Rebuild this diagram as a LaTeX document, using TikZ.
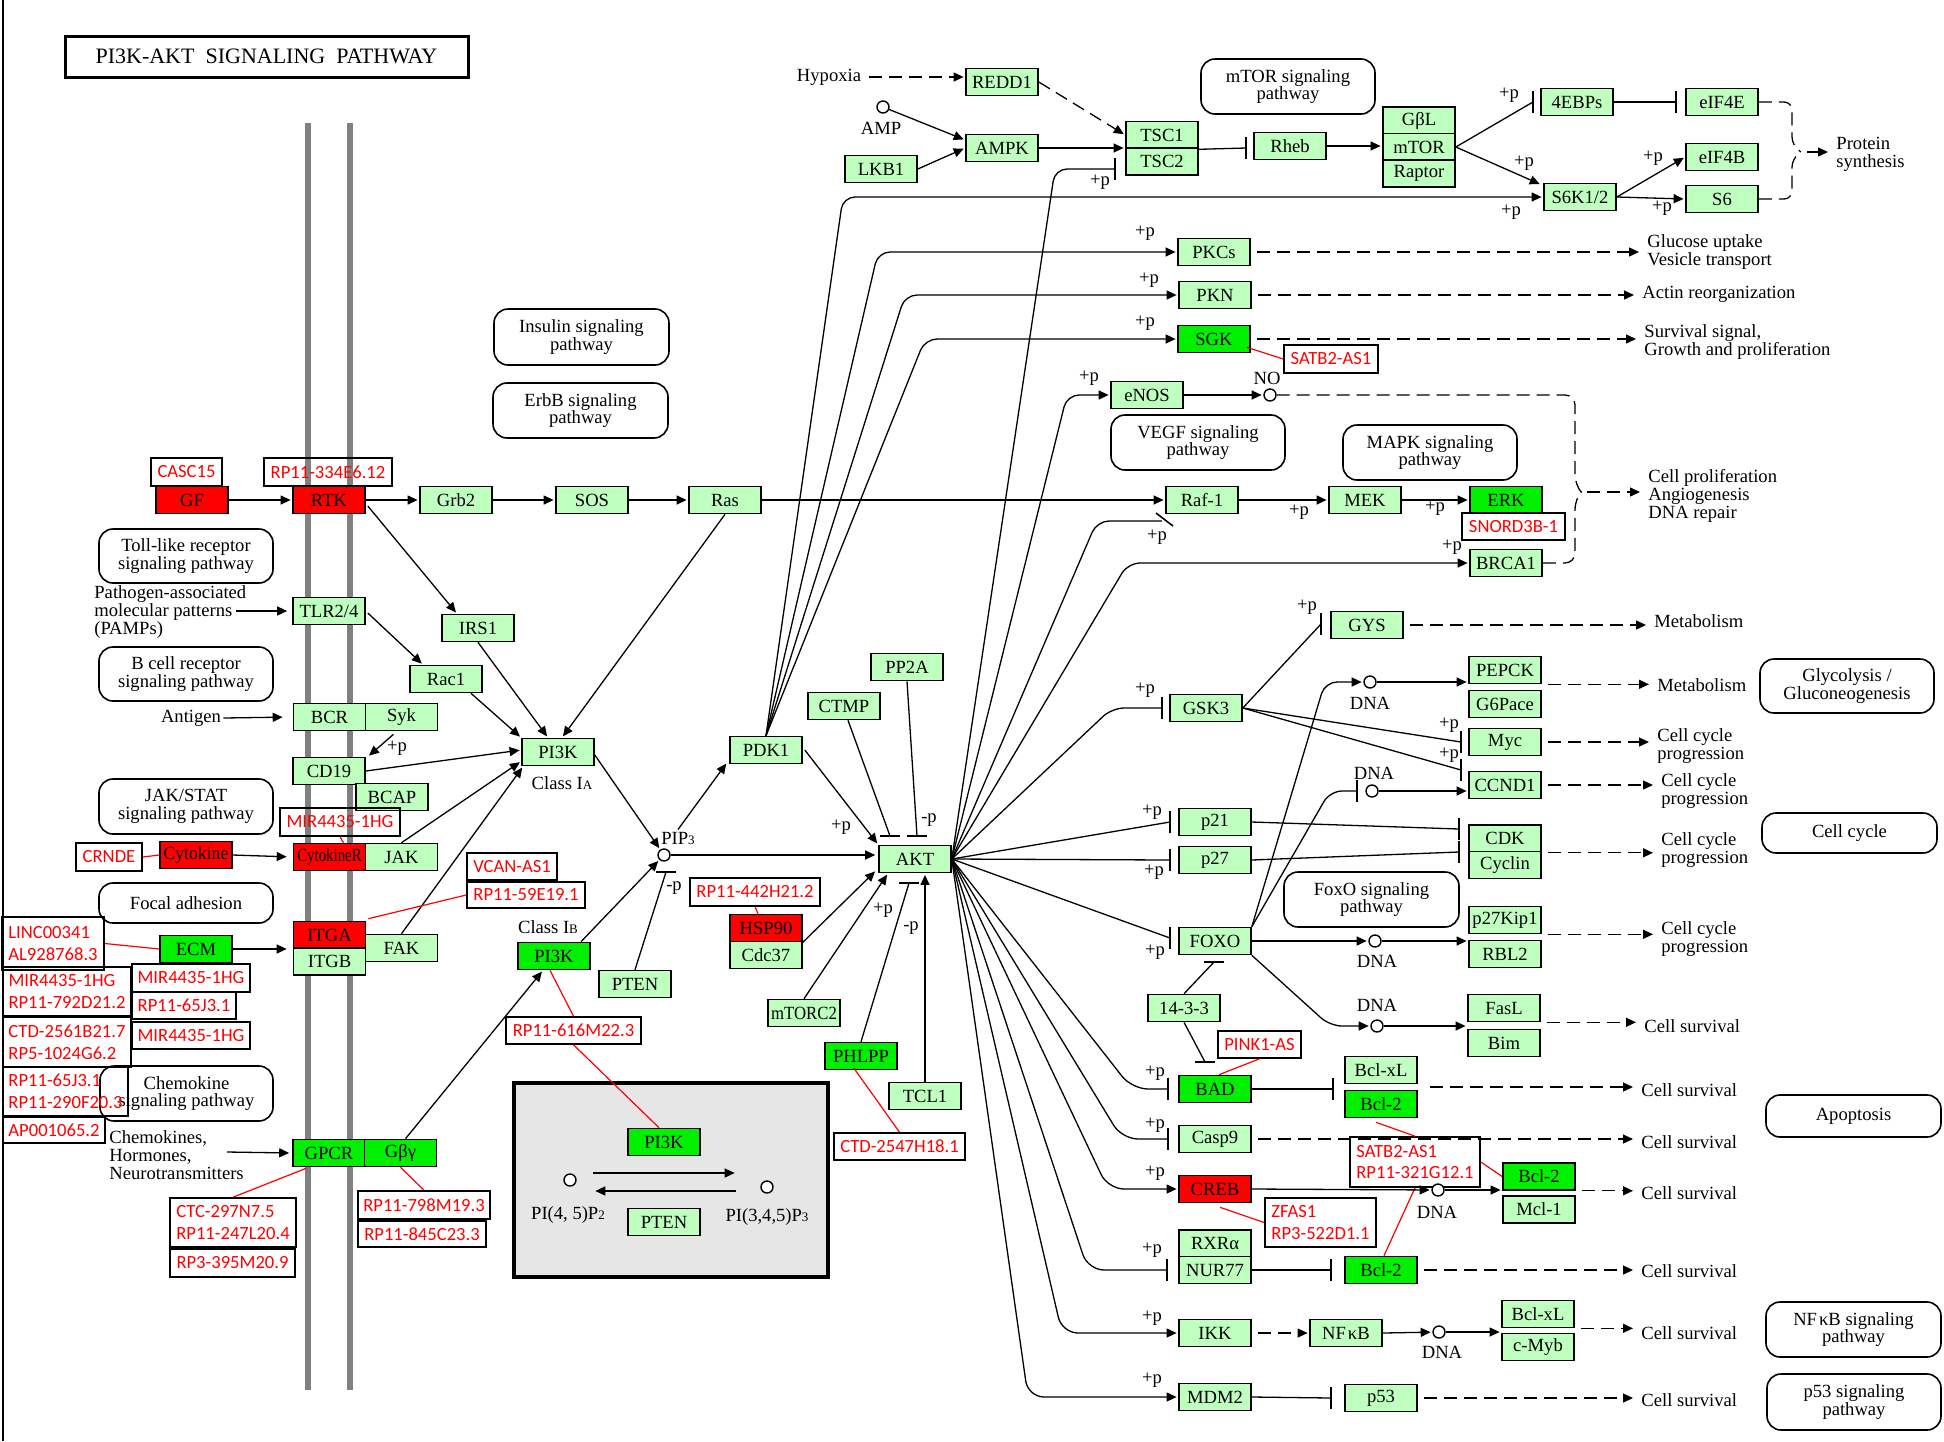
\documentclass[tikz,border=0pt]{standalone}
\usepackage{fontspec}
\usepackage{graphicx}
\setmainfont{Liberation Serif}
\newfontfamily\lblfont{Carlito}
\usetikzlibrary{arrows.meta,calc}
\definecolor{kgreen}{RGB}{191,255,191}
\definecolor{kbright}{RGB}{0,240,0}
\definecolor{kred}{RGB}{255,0,0}
\definecolor{kgrey}{RGB}{128,128,128}
\definecolor{kbox}{RGB}{230,230,230}
\tikzset{
 genebox/.style={draw, line width=0.8pt, fill=kgreen, minimum width=36pt, minimum height=13.5pt, inner sep=0pt, font=\fontsize{9.3}{9.3}\selectfont},
 redbox/.style={genebox, fill=kred},
 brightbox/.style={genebox, fill=kbright},
 lblbox/.style={draw, line width=0.8pt, text=kred, font=\lblfont\fontsize{9.3}{10.8}\selectfont, inner xsep=2.5pt, inner ysep=0pt, align=left},
 mapbox/.style={draw, line width=0.8pt, rounded corners=7pt, inner sep=0pt, align=center, font=\fontsize{9.3}{8.9}\selectfont},
 txt/.style={inner sep=1pt, font=\fontsize{9.3}{8.9}\selectfont, align=left},
 ptxt/.style={inner sep=0pt, font=\fontsize{9.3}{9.3}\selectfont},
 conn/.style={line width=0.65pt},
 arr/.style={conn, -{Triangle[length=5pt,width=4.5pt]}, shorten >=0.8pt},
 darr/.style={arr, dash pattern=on 6.5pt off 3.5pt, shorten <=3pt, shorten >=3pt},
 dline/.style={conn, dash pattern=on 6.5pt off 3.5pt},
 barline/.style={line width=0.8pt},
 redline/.style={draw=kred, line width=0.6pt},
 membrane/.style={draw=kgrey, line width=3.3pt},
 mol/.style={circle, draw, line width=0.7pt, fill=white, minimum size=6pt, inner sep=0pt},
}
\newcommand\mkgene[5][genebox]{\node[#1] (#2) at (#3,#4) {#5};}
\newcommand\mklab[6]{\pgfmathsetmacro\lbw{(#4-#2)*0.5}\pgfmathsetmacro\lbh{(#5-#3)*0.5}\node[lblbox, minimum width=\lbw pt, minimum height=\lbh pt] (#1) at ({(#2+#4)/2},{(#3+#5)/2}) {#6};}
\newcommand\mkmap[6]{\pgfmathsetmacro\lbw{(#4-#2)*0.5}\pgfmathsetmacro\lbh{(#5-#3)*0.5}\node[mapbox, minimum width=\lbw pt, minimum height=\lbh pt] (#1) at ({(#2+#4)/2},{(#3+#5)/2}) {#6};}
\newcommand\vbarat[1]{\draw[barline] ($(#1)+(0,-11)$) -- ($(#1)+(0,11)$);}
\newcommand\hbarat[1]{\draw[barline] ($(#1)+(-10,0)$) -- ($(#1)+(10,0)$);}
\begin{document}
\begin{tikzpicture}[x=0.5pt,y=-0.5pt]
\useasboundingbox (0,0) rectangle (1944,1441);
\fill[white] (0,0) rectangle (1944,1441);
\draw[line width=1pt] (3,0) -- (3,1441);
\draw[membrane] (308,123) -- (308,1390);
\draw[membrane] (350,123) -- (350,1390);
\node[draw, line width=1.5pt, minimum width=201.5pt, minimum height=20.5pt, inner sep=0pt, font=\fontsize{11}{11}\selectfont] (title) at (266.5,56.5) {PI3K-AKT\ \ SIGNALING\ \ PATHWAY};
\node[draw, line width=1.8pt, fill=kbox, minimum width=157pt, minimum height=97pt, inner sep=0pt] (greybox) at (671,1180) {};

% pathway maps
\mkmap{insulin}{494}{309}{669}{365}{Insulin signaling\\pathway}
\mkmap{erbb}{493}{383}{668}{438}{ErbB signaling\\pathway}
\mkmap{mtorpw}{1201}{59}{1375}{114}{mTOR signaling\\pathway}
\mkmap{toll}{99}{529}{273}{583}{Toll-like receptor\\signaling pathway}
\mkmap{bcell}{99}{647}{273}{701}{B cell receptor\\signaling pathway}
\mkmap{jakpw}{99}{779}{273}{834}{JAK/STAT\\signaling pathway}
\mkmap{focal}{99}{883}{273}{923}{Focal adhesion}
\mkmap{chemo}{100}{1066}{273}{1121}{Chemokine\\signaling pathway}
\mkmap{vegf}{1111}{415}{1285}{470}{VEGF signaling\\pathway}
\mkmap{mapk}{1343}{425}{1517}{480}{MAPK signaling\\pathway}
\mkmap{foxopw}{1284}{872}{1459}{927}{FoxO signaling\\pathway}
\mkmap{glyco}{1760}{659}{1934}{713}{Glycolysis /\\Gluconeogenesis}
\mkmap{ccyc}{1762}{813}{1937}{853}{Cell cycle}
\mkmap{apop}{1766}{1095}{1941}{1137}{Apoptosis}
\mkmap{nfkbpw}{1766}{1302}{1941}{1357}{NF\kern1ptκB signaling\\pathway}
\mkmap{p53pw}{1767}{1374}{1941}{1430}{p53 signaling\\pathway}

% genes left
\mkgene[redbox]{GF}{192}{500}{GF}
\mkgene[redbox]{RTK}{329}{500}{RTK}
\mkgene{Grb2}{456}{500}{Grb2}
\mkgene{SOS}{592}{500}{SOS}
\mkgene{Ras}{725}{500}{Ras}
\mkgene{TLR}{329}{611}{TLR2/4}
\mkgene{IRS1}{478}{628}{IRS1}
\mkgene{Rac1}{446}{679}{Rac1}
\mkgene{BCR}{329.5}{717}{BCR}
\mkgene{Syk}{401.5}{717}{Syk}
\mkgene{CD19}{329}{771}{CD19}
\mkgene{BCAP}{392}{797}{BCAP}
\mkgene[redbox]{Cytok}{196}{855}{\scalebox{0.95}[1]{Cytokine}}
\mkgene[redbox]{CytR}{329.5}{857}{\scalebox{0.8}[1]{CytokineR}}
\mkgene{JAK}{401.5}{857}{JAK}
\mkgene[redbox]{ITGA}{329.5}{935}{ITGA}
\mkgene{ITGB}{329.5}{961.5}{ITGB}
\mkgene{FAK}{401.5}{948}{FAK}
\mkgene[brightbox]{ECM}{196}{949}{ECM}
\mkgene[brightbox]{GPCR}{329}{1153}{GPCR}
\mkgene[brightbox]{Gbg}{400.5}{1153}{Gβγ}
\mkgene{PI3KA}{558}{752}{PI3K}
\mkgene[brightbox]{PI3KB}{554}{956}{PI3K}
\mkgene{PTENa}{635}{984}{PTEN}
\mkgene{PDK1}{766}{750}{PDK1}
\mkgene{CTMP}{844}{706}{CTMP}
\mkgene{PP2A}{907}{667}{PP2A}
\mkgene{AKT}{915}{859}{AKT}
\mkgene[redbox]{HSP90}{766}{928}{HSP90}
\mkgene{Cdc37}{766}{955}{Cdc37}
\mkgene{mTORC2}{804}{1013}{\scalebox{0.9}[1]{mTORC2}}
\mkgene[brightbox]{PHLPP}{861}{1056}{PHLPP}
\mkgene{TCL1}{925}{1096}{TCL1}
\mkgene[brightbox]{PI3Kc}{664}{1142}{PI3K}
\mkgene{PTENc}{664}{1222}{PTEN}
% genes top
\mkgene{REDD1}{1002}{82}{REDD1}
\mkgene{AMPK}{1002}{148}{AMPK}
\mkgene{LKB1}{881}{169}{LKB1}
\mkgene{TSC1}{1162}{135}{TSC1}
\mkgene{TSC2}{1162}{161.5}{TSC2}
\mkgene{Rheb}{1290}{146}{Rheb}
\mkgene{GbL}{1419}{120.5}{GβL}
\mkgene{mTOR}{1419}{147}{mTOR}
\mkgene{Raptor}{1419}{173.5}{Raptor}
\mkgene{EBP}{1577}{102}{4EBPs}
\mkgene{eIF4E}{1722}{102}{eIF4E}
\mkgene{eIF4B}{1722}{157}{eIF4B}
\mkgene{S6}{1722}{199}{S6}
\mkgene{S6K}{1580}{197}{S6K1/2}
\mkgene{PKCs}{1214}{252}{PKCs}
\mkgene{PKN}{1215}{295}{PKN}
\mkgene[brightbox]{SGK}{1214}{339}{SGK}
\mkgene{eNOS}{1147}{395}{eNOS}
\mkgene{Raf1}{1202}{500}{Raf-1}
\mkgene{MEK}{1365}{500}{MEK}
\mkgene[brightbox]{ERK}{1506}{500}{ERK}
\mkgene{BRCA1}{1506}{563}{BRCA1}
\mkgene{GYS}{1367}{625}{GYS}
\mkgene{GSK3}{1206}{708}{GSK3}
\mkgene{PEPCK}{1505}{670}{PEPCK}
\mkgene{G6Pace}{1505}{704}{G6Pace}
\mkgene{Myc}{1505}{742}{Myc}
\mkgene{CCND1}{1505}{785}{CCND1}
\mkgene{CDK}{1505}{838.5}{CDK}
\mkgene{Cyclin}{1505}{865}{Cyclin}
\mkgene{p21}{1215}{822}{p21}
\mkgene{p27}{1215}{860}{p27}
\mkgene{FOXO}{1215}{941}{FOXO}
\mkgene{p27Kip1}{1505}{920}{p27Kip1}
\mkgene{RBL2}{1505}{954}{RBL2}
\mkgene{b1433}{1184}{1008}{14-3-3}
\mkgene{FasL}{1504}{1008}{FasL}
\mkgene{Bim}{1504}{1043}{Bim}
\mkgene[brightbox]{BAD}{1215}{1089}{BAD}
\mkgene{Bclxl}{1381}{1070}{Bcl-xL}
\mkgene[brightbox]{Bcl2a}{1381}{1104}{Bcl-2}
\mkgene{Casp9}{1215}{1139}{Casp9}
\mkgene[redbox]{CREB}{1215}{1189}{CREB}
\mkgene[brightbox]{Bcl2b}{1539}{1176.5}{Bcl-2}
\mkgene{Mcl1}{1539}{1209.5}{Mcl-1}
\mkgene{RXRa}{1215}{1243.5}{RXRα}
\mkgene{NUR77}{1215}{1270}{NUR77}
\mkgene[brightbox]{Bcl2c}{1381}{1270}{Bcl-2}
\mkgene{IKK}{1215}{1333}{IKK}
\mkgene{NFkB}{1346}{1333}{NF\kern1ptκB}
\mkgene{Bclxl2}{1538}{1314}{Bcl-xL}
\mkgene{cMyb}{1538}{1347}{c-Myb}
\mkgene{MDM2}{1215}{1397}{MDM2}
\mkgene{p53}{1381}{1398}{p53}

% red labels
\mklab{casc}{151}{458}{222}{486}{CASC15}
\mklab{rp334}{264}{458}{392}{486}{RP11-334E6.12}
\mklab{mirA}{280}{808}{400}{836}{MIR4435-1HG}
\mklab{crnde}{76}{843}{142}{871}{CRNDE}
\mklab{vcan}{467}{853}{557}{880}{VCAN-AS1}
\mklab{rp59}{467}{882}{585}{908}{RP11-59E19.1}
\mklab{linc}{2}{917}{104}{970}{LINC00341\\AL928768.3}
\mklab{mirB}{3}{967}{131}{1016}{MIR4435-1HG\\RP11-792D21.2}
\mklab{ctd25}{3}{1017}{131}{1067}{CTD-2561B21.7\\RP5-1024G6.2}
\mklab{rp65a}{3}{1067}{128}{1116}{RP11-65J3.1\\RP11-290F20.3}
\mklab{ap00}{3}{1117}{105}{1143}{AP001065.2}
\mklab{mirC}{132}{964}{250}{992}{MIR4435-1HG}
\mklab{rp65b}{132}{992}{236}{1019}{RP11-65J3.1}
\mklab{mirD}{132}{1022}{250}{1049}{MIR4435-1HG}
\mklab{ctc}{170}{1198}{296}{1247}{CTC-297N7.5\\RP11-247L20.4}
\mklab{rp3}{170}{1249}{295}{1277}{RP3-395M20.9}
\mklab{rp798}{358}{1191}{490}{1219}{RP11-798M19.3}
\mklab{rp845}{358}{1221}{486}{1247}{RP11-845C23.3}
\mklab{rp616}{506}{1017}{641}{1044}{RP11-616M22.3}
\mklab{rp442}{690}{878}{820}{906}{RP11-442H21.2}
\mklab{ctd}{834}{1133}{965}{1160}{CTD-2547H18.1}
\mklab{satbA}{1284}{345}{1378}{373}{SATB2-AS1}
\mklab{snord}{1462}{513}{1565}{540}{SNORD3B-1}
\mklab{pink}{1218}{1031}{1301}{1058}{PINK1-AS}
\mklab{satbB}{1350}{1137}{1480}{1187}{SATB2-AS1\\RP11-321G12.1}
\mklab{zfas}{1265}{1198}{1376}{1247}{ZFAS1\\RP3-522D1.1}

% plain texts and small molecules
\node[txt] (hyp) at (829,77) {Hypoxia};
\node[mol] (amp) at (883,107) {};
\node[txt] (amplab) at (881,128) {AMP};
\node[mol] (no) at (1270,395) {};
\node[txt] (nolab) at (1267,378) {NO};
\node[txt, anchor=west] (pamps) at (92,612) {Pathogen-associated\\molecular patterns\\(PAMPs)};
\coordinate (pampsend) at (236,611);
\node[txt] (antigen) at (191,718) {Antigen};
\node[txt, anchor=west] (chemtxt) at (107,1155) {Chemokines,\\Hormones,\\Neurotransmitters};
\coordinate (chemend) at (227,1152);
\node[txt] (classA) at (562,783) {Class I{\fontsize{6.5}{6.5}\selectfont A}};
\node[txt] (classB) at (548,927) {Class I{\fontsize{6.5}{6.5}\selectfont B}};
\node[mol] (pip3) at (664,855) {};
\node[txt] (pip3lab) at (678,838) {PIP{\fontsize{6.5}{6.5}\selectfont 3}};
\node[mol] (pi45) at (570,1180) {};
\node[mol] (pi345) at (767,1187) {};
\node[txt] (pi45lab) at (568,1215) {PI(4, 5)P{\fontsize{6.5}{6.5}\selectfont 2}};
\node[txt] (pi345lab) at (767,1217) {PI(3,4,5)P{\fontsize{6.5}{6.5}\selectfont 3}};
\node[mol] (dna1) at (1370,682) {};
\node[txt] (dna1lab) at (1370,703) {DNA};
\node[mol] (dna2) at (1372,791) {};
\node[txt] (dna2lab) at (1374,773) {DNA};
\node[mol] (dna3) at (1375,941) {};
\node[txt] (dna3lab) at (1377,961) {DNA};
\node[mol] (dna4) at (1377,1026) {};
\node[txt] (dna4lab) at (1377,1005) {DNA};
\node[mol] (dna5) at (1438,1190) {};
\node[txt] (dna5lab) at (1437,1212) {DNA};
\node[mol] (dna6) at (1439,1332) {};
\node[txt] (dna6lab) at (1442,1352) {DNA};

% outputs
\node[txt, anchor=west] (protein) at (1834,154) {Protein\\synthesis};
\node[txt, anchor=west] (glucose) at (1645,252) {Glucose uptake\\Vesicle transport};
\node[txt, anchor=west] (actin) at (1640,294) {Actin reorganization};
\node[txt, anchor=west] (survsig) at (1642,342) {Survival signal,\\Growth and proliferation};
\node[txt, anchor=west] (cellprol) at (1646,496) {Cell proliferation\\Angiogenesis\\DNA repair};
\node[txt, anchor=west] (met1) at (1652,621) {Metabolism};
\node[txt, anchor=west] (met2) at (1655,685) {Metabolism};
\node[txt, anchor=west] (ccp1) at (1655,746) {Cell cycle\\progression};
\node[txt, anchor=west] (ccp2) at (1659,791) {Cell cycle\\progression};
\node[txt, anchor=west] (ccp3) at (1659,850) {Cell cycle\\progression};
\node[txt, anchor=west] (ccp4) at (1659,939) {Cell cycle\\progression};
\node[txt, anchor=west] (cs1) at (1642,1026) {Cell survival};
\node[txt, anchor=west] (cs2) at (1639,1090) {Cell survival};
\node[txt, anchor=west] (cs3) at (1639,1142) {Cell survival};
\node[txt, anchor=west] (cs4) at (1639,1193) {Cell survival};
\node[txt, anchor=west] (cs5) at (1639,1271) {Cell survival};
\node[txt, anchor=west] (cs6) at (1639,1333) {Cell survival};
\node[txt, anchor=west] (cs7) at (1639,1400) {Cell survival};

% +p / -p labels
\foreach \ppx/\ppy/\ppt [count=\i] in {397/748/+p, 841/827/+p, 929/820/-p, 674/888/-p, 883/910/+p, 911/928/-p, 1100/182/+p, 1145/233/+p, 1149/280/+p, 1145/323/+p, 1089/378/+p, 1157/537/+p, 1299/512/+p, 1435/508/+p, 1452/547/+p, 1509/95/+p, 1524/163/+p, 1511/212/+p, 1653/158/+p, 1662/208/+p, 1307/607/+p, 1145/690/+p, 1449/725/+p, 1449/755/+p, 1152/812/+p, 1154/872/+p, 1155/952/+p, 1155/1073/+p, 1155/1125/+p, 1155/1173/+p, 1152/1250/+p, 1152/1318/+p, 1152/1380/+p}
  {\node[ptxt] (pl\i) at (\ppx,\ppy) {\ppt};}

% ---------- connectors: left ----------
\draw[arr] (GF.east) -- (RTK.west);
\draw[arr] (RTK.east) -- (Grb2.west);
\draw[arr] (Grb2.east) -- (SOS.west);
\draw[arr] (SOS.east) -- (Ras.west);
\draw[arr] (Ras.east) -- (Raf1.west);
\draw[arr] ($(RTK.east)+(2,6)$) -- ($(IRS1.north)+(-21,0)$);
\draw[arr] ($(TLR.east)+(2,2)$) -- ($(Rac1.north)+(-23,0)$);
\draw[arr, shorten >=2.5pt] (pampsend) -- (TLR.west);
\draw[arr, shorten >=5pt] (antigen.east) -- (BCR.west);
\draw[arr] ($(Syk.south)+(-8,3)$) -- ($(CD19.north east)+(2,0)$);
\draw[arr] ($(Rac1.south)+(25,0)$) -- (PI3KA.north west);
\draw[arr] (IRS1.south) -- ($(PI3KA.north)+(-10,0)$);
\draw[arr] (Ras.south) -- ($(PI3KA.north)+(4,0)$);
\draw[arr] (CD19.east) -- ($(PI3KA.west)+(0,-2)$);
\draw[arr] (JAK.north) -- ($(PI3KA.south west)+(0,-5)$);
\draw[arr] (FAK.north) -- ($(PI3KA.south west)+(2,0)$);
\draw[arr, shorten >=3pt] (Cytok.east) -- (CytR.west);
\draw[arr, shorten >=3pt] (ECM.east) -- (ECM.east -| ITGA.west);
\draw[arr, shorten >=1.5pt] (chemend) -- (GPCR.west);
\draw[arr] ($(Gbg.north)+(5,0)$) -- ($(PI3KB.south)+(-11,0)$);

% PIP3 / AKT
\draw[arr] ($(PI3KA.east)+(0,3)$) -- (pip3);
\draw[arr] ($(PI3KB.north)+(27,0)$) -- (pip3);
\draw[arr] (pip3lab.north) -- ($(PDK1.south west)+(-2,-2)$);
\draw[arr, shorten >=1.5pt] (pip3) -- (pip3 -| AKT.west);
\coordinate (bpip) at (666,872); \draw[conn] (PTENa.north) -- (bpip); \hbarat{bpip}
\draw[arr] ($(PDK1.east)+(2,0)$) -- (AKT.north west);
\coordinate (bctmp) at (890,836); \draw[conn] ($(CTMP.south)+(4,0)$) -- (bctmp); \hbarat{bctmp}
\coordinate (bpp2a) at (917,836); \draw[conn] (PP2A.south) -- (bpp2a); \hbarat{bpp2a}
\draw[arr] (HSP90.south east) -- ($(AKT.south west)+(-2,-3)$);
\draw[arr] (mTORC2.north) -- ($(AKT.south)+(-27,0)$);
\coordinate (bphl) at (909,883); \draw[conn] (PHLPP.north) -- (bphl); \hbarat{bphl}
\draw[arr] (TCL1.north) -- (TCL1.north |- AKT.south);
\draw[arr] ($(pi45.east)+(16,-7)$) -- ($(pi345.west)+(-24,-14)$);
\draw[arr] ($(pi345.west)+(-24,4)$) -- ($(pi45.east)+(17,11)$);

% red association lines
\draw[redline] (mirA.south) -- ($(CytR.north)+(14,0)$);
\draw[redline] (crnde.east) -- (Cytok.west);
\draw[redline] (rp59.west) -- ($(ITGA.north east)+(2,-2)$);
\draw[redline] (linc.east) -- (ECM.west);
\draw[redline] ($(GPCR.south west)+(14,1)$) -- (ctc.north);
\draw[redline] (Gbg.south) -- (rp798.north);
\draw[redline] ($(PI3KB.south)+(-4,0)$) -- (rp616.north);
\draw[redline] (rp616.south) -- ($(PI3Kc.north)+(-5,0)$);
\draw[redline] (rp442.south) -- ($(HSP90.north)+(-8,0)$);
\draw[redline] ($(PHLPP.south)+(-7,-2)$) -- (ctd.north);
\draw[redline] ($(SGK.south east)+(-4,-6)$) -- (satbA.west);
\draw[redline] (pink.south) -- ($(BAD.north)+(4,0)$);
\draw[redline] ($(Bcl2a.south)+(-5,4)$) -- (satbB.north);
\draw[redline] (satbB.east) -- (Bcl2b.west);
\draw[redline] (satbB.south) -- ($(Bcl2c.north)+(3,0)$);
\draw[redline] ($(CREB.south)+(5,4)$) -- (zfas.west);

% ---------- top ----------
\draw[darr, shorten >=0.8pt] (hyp.east) -- (REDD1.west |- hyp.east);
\draw[arr] (amp) -- ($(AMPK.west)+(0,-8)$);
\draw[arr] (LKB1.east) -- (AMPK.west);
\draw[darr, shorten <=0pt, shorten >=0.8pt] (REDD1.east) -- (TSC1.west);
\draw[arr] (AMPK.east) -- (AMPK.east -| TSC1.west);
\coordinate (brheb) at (1246,148); \draw[conn] (TSC1.south east) -- (brheb); \vbarat{brheb}
\draw[arr] (Rheb.east) -- (Rheb.east -| mTOR.west);
\coordinate (b4e) at (1533,102); \draw[conn] (mTOR.east) -- (b4e); \vbarat{b4e}
\coordinate (beif) at (1676,102); \draw[conn] (EBP.east) -- (beif); \vbarat{beif}
\draw[arr] (mTOR.east) -- ($(S6K.north west)+(-2,2)$);
\draw[arr] (S6K.east) -- (eIF4B.west);
\draw[arr] (S6K.east) -- (S6.west);
\coordinate (ptip) at (1801,152);
\draw[dline, rounded corners=4pt] (eIF4E.east) -- (1792,102) -- (1792,145) -- (ptip);
\draw[dline, rounded corners=4pt] (S6.east) -- (1792,199) -- (1792,159) -- (ptip);
\draw[darr] (ptip) -- (ptip -| protein.west);

% PDK1 fan
\draw[arr, rounded corners=6pt] (PDK1.north) -- (843,197) -- (S6K.west);
\draw[arr, rounded corners=6pt] (PDK1.north) -- (878,252) -- (PKCs.west);
\draw[arr, rounded corners=6pt] (PDK1.north) -- (905,295) -- (PKN.west);
\draw[arr, rounded corners=6pt] (PDK1.north) -- (925,339) -- (SGK.west);
\draw[darr] (PKCs.east) -- (PKCs.east -| glucose.west);
\draw[darr] (PKN.east) -- (PKN.east -| actin.west);
\draw[darr] (SGK.east) -- (SGK.east -| survsig.west);

% AKT fan (upper)
\coordinate (btsc) at (1115,169);
\draw[conn, rounded corners=6pt] (AKT.east) -- (1055,169) -- (btsc); \vbarat{btsc}
\draw[arr, rounded corners=6pt] (AKT.east) -- (1067,395) -- (eNOS.west);
\draw[arr] (eNOS.east) -- (no);
\coordinate (ctip) at (1581,492);
\draw[dline, rounded corners=5pt] (no.east) -- (1575,395) -- (1575,485) -- (ctip);
\draw[dline, rounded corners=5pt] (BRCA1.east) -- (1575,563) -- (1575,499) -- (ctip);
\draw[darr] (ctip) -- (ctip -| cellprol.west);
\draw[arr] (Raf1.east) -- (MEK.west);
\draw[arr] (MEK.east) -- (ERK.west);
\coordinate (braf) at (1162,521);
\draw[conn, rounded corners=6pt] (AKT.east) -- (1097,521) -- (braf);
\draw[barline] ($(braf)+(-6,-8)$) -- ($(braf)+(11,5)$);
\draw[arr, rounded corners=6pt] (AKT.east) -- (1128,563) -- (BRCA1.west);
\coordinate (bgsk) at (1162,708);
\draw[conn, rounded corners=6pt] (AKT.east) -- (1112,708) -- (bgsk); \vbarat{bgsk}
\coordinate (bgys) at (1321,624); \draw[conn] (GSK3.east) -- (bgys); \vbarat{bgys}
\coordinate (bmyc) at (1461,742); \draw[conn] (GSK3.east) -- (bmyc); \vbarat{bmyc}
\coordinate (bccnd) at (1461,770); \draw[conn] (GSK3.east) -- (bccnd); \vbarat{bccnd}
\draw[darr] (GYS.east) -- (GYS.east -| met1.west);
\draw[darr] (PEPCK.south east) -- (PEPCK.south east -| met2.west);
\draw[darr] (Myc.east) -- (Myc.east -| ccp1.west);
\draw[darr] (CCND1.east) -- (CCND1.east -| ccp2.west);
\draw[darr] (CDK.south east) -- (CDK.south east -| ccp3.west);
\draw[darr] (p27Kip1.south east) -- (p27Kip1.south east -| ccp4.west);

% FOXO / DNA
\draw[arr, rounded corners=6pt] (FOXO.north east) -- (1325,682) -- (dna1);
\draw[arr] (dna1) -- (dna1 -| PEPCK.west);
\coordinate (bdna2) at (1357,791);
\draw[conn, rounded corners=6pt] (FOXO.north east) -- (1330,791) -- (bdna2); \vbarat{bdna2}
\draw[arr] (dna2) -- (dna2 -| CCND1.west);
\draw[arr] (FOXO.east) -- (dna3);
\draw[arr] (dna3) -- (dna3 -| p27Kip1.west);
\draw[arr, rounded corners=6pt] (FOXO.south east) -- (1330,1026) -- (dna4);
\draw[arr] (dna4) -- (dna4 -| FasL.west);
\draw[darr] (FasL.south east) -- (FasL.south east -| cs1.west);

% AKT fan (middle)
\coordinate (bp21) at (1170,822); \draw[conn] (AKT.east) -- (bp21); \vbarat{bp21}
\coordinate (bp27) at (1170,860); \draw[conn] (AKT.east) -- (bp27); \vbarat{bp27}
\coordinate (bfoxo) at (1170,938); \draw[conn] (AKT.east) -- (bfoxo); \vbarat{bfoxo}
\coordinate (bcdk1) at (1459,829); \draw[conn] (p21.east) -- (bcdk1); \vbarat{bcdk1}
\coordinate (bcdk2) at (1459,852); \draw[conn] (p27.east) -- (bcdk2); \vbarat{bcdk2}
\coordinate (bfoxob) at (1214,962); \draw[conn] (b1433.north) -- (bfoxob); \hbarat{bfoxob}
\coordinate (bbadt) at (1205,1062); \draw[conn] (b1433.south) -- (bbadt); \hbarat{bbadt}

% AKT fan (lower)
\coordinate (bbad) at (1168,1089);
\draw[conn, rounded corners=8pt] (AKT.east) -- (1132,1089) -- (bbad); \vbarat{bbad}
\coordinate (bbcl) at (1333,1089); \draw[conn] (BAD.east) -- (bbcl); \vbarat{bbcl}
\coordinate (bclmid) at ($(Bclxl.south east)!0.5!(Bcl2a.north east)$);
\draw[darr, shorten <=6pt] (bclmid) -- (bclmid -| cs2.west);
\coordinate (bcasp) at (1168,1139);
\draw[conn, rounded corners=8pt] (AKT.east) -- (1122,1139) -- (bcasp); \vbarat{bcasp}
\draw[darr] (Casp9.east) -- (Casp9.east -| cs3.west);
\draw[arr, rounded corners=8pt] (AKT.east) -- (1108,1189) -- (CREB.west);
\draw[arr] (CREB.east) -- (dna5);
\draw[arr] (dna5) -- (dna5 -| Bcl2b.west);
\draw[darr] (Bcl2b.south east) -- (Bcl2b.south east -| cs4.west);
\coordinate (bnur) at (1167,1270);
\draw[conn, rounded corners=8pt] (AKT.east) -- (1088,1270) -- (bnur); \vbarat{bnur}
\coordinate (bbcl2) at (1331,1270); \draw[conn] (NUR77.east) -- (bbcl2); \vbarat{bbcl2}
\draw[darr] (Bcl2c.east) -- (Bcl2c.east -| cs5.west);
\draw[arr, rounded corners=8pt] (AKT.east) -- (1062,1333) -- (IKK.west);
\draw[darr, shorten >=0.8pt] (IKK.east) -- (NFkB.west);
\draw[arr] (NFkB.east) -- (dna6);
\draw[arr] (dna6) -- (dna6 -| Bclxl2.west);
\draw[darr] (Bclxl2.south east) -- (Bclxl2.south east -| cs6.west);
\draw[arr, rounded corners=8pt] (AKT.east) -- (1028,1397) -- (MDM2.west);
\coordinate (bp53) at (1331,1398); \draw[conn] (MDM2.east) -- (bp53); \vbarat{bp53}
\draw[darr] (p53.east) -- (p53.east -| cs7.west);
\end{tikzpicture}
\end{document}
